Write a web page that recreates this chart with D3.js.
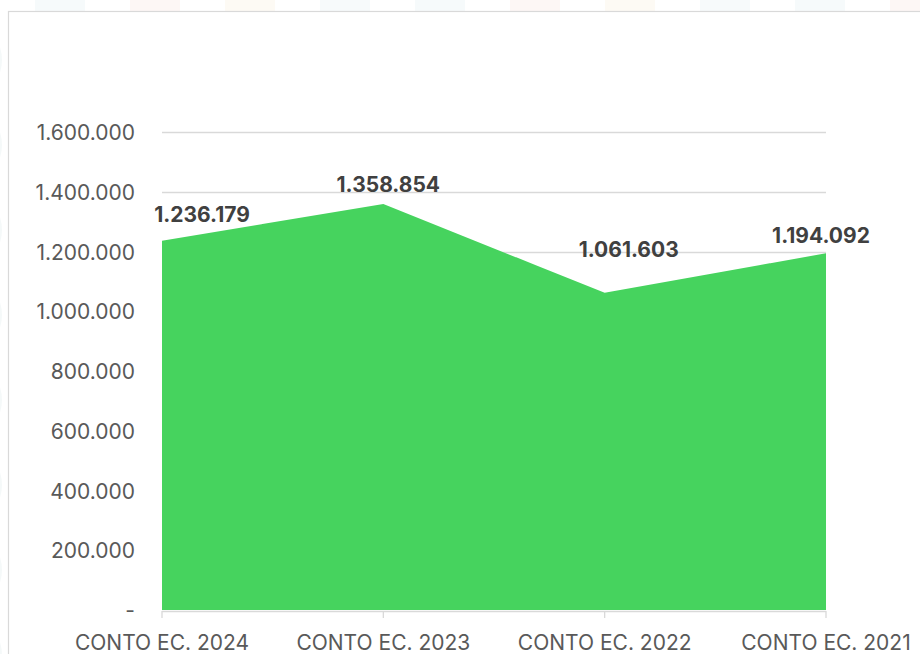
<!DOCTYPE html>
<html>
<head>
<meta charset="utf-8">
<script src="https://cdn.jsdelivr.net/npm/d3@7"></script>
<style>
  body { margin: 0; background: #fff; }
  svg { display: block; font-family: Inter, "Noto Sans", sans-serif; }
</style>
</head>
<body>
<svg id="chart" width="920" height="654"></svg>
<script>
// data
var categories = ["CONTO EC. 2024", "CONTO EC. 2023", "CONTO EC. 2022", "CONTO EC. 2021"];
var values = [1236179, 1358854, 1061603, 1194092];
var yTicks = [0, 200000, 400000, 600000, 800000, 1000000, 1200000, 1400000, 1600000];

// label nudges (px) relative to each point
var labelDx = [40, 5, 24, -5];
var labelDy = [-19, -12, -36, -10];

var svg = d3.select("#chart");
var W = 920, H = 654;

// faint background pattern outside the panel
var bg = svg.append("g").attr("opacity", 0.6);
var bgCols = ["#e3f1f4", "#fbe5e1", "#fcefdc", "#e6f1f6"];
d3.range(0, 10).forEach(function(i) {
    bg.append("rect")
        .attr("x", i * 95 + 35).attr("y", -4)
        .attr("width", 50).attr("height", 16)
        .attr("fill", bgCols[i % 4])
        .attr("opacity", 0.5);
});
d3.range(0, 8).forEach(function(i) {
    bg.append("path")
        .attr("d", "M-4," + (i * 85 + 40) + " q10,20 0,40")
        .attr("fill", "none")
        .attr("stroke", "#eef5f5")
        .attr("stroke-width", 2);
});

// panel
svg.append("rect")
    .attr("x", 8.5).attr("y", 11.5)
    .attr("width", W).attr("height", H)
    .attr("fill", "#fff")
    .attr("stroke", "#d9d9d9")
    .attr("stroke-width", 1.2);

var x = d3.scalePoint()
    .domain(categories)
    .range([162, 826]);

var y = d3.scaleLinear()
    .domain([0, 1600000])
    .range([610, 132]);

var fmt = function(v) {
    if (v === 0) return "-";
    return d3.format(",")(v).replace(/,/g, ".");
};

// gridlines
svg.append("g")
    .selectAll("line")
    .data(yTicks.slice(1))
    .enter()
    .append("line")
    .attr("x1", 162).attr("x2", 826)
    .attr("y1", function(d) { return Math.round(y(d)) + 0.5; })
    .attr("y2", function(d) { return Math.round(y(d)) + 0.5; })
    .attr("stroke", "#d9d9d9")
    .attr("stroke-width", 1.3);

// area
var area = d3.area()
    .x(function(d, i) { return x(categories[i]); })
    .y0(y(0))
    .y1(function(d) { return y(d); });

svg.append("path")
    .datum(values)
    .attr("d", area)
    .attr("fill", "#46d35e");

// x axis baseline + ticks
var xAxis = svg.append("g");
xAxis.append("line")
    .attr("x1", 162).attr("x2", 826)
    .attr("y1", 611.5).attr("y2", 611.5)
    .attr("stroke", "#d9d9d9")
    .attr("stroke-width", 1.3);
xAxis.selectAll(".tk")
    .data(categories)
    .enter()
    .append("line")
    .attr("class", "tk")
    .attr("x1", function(d) { return x(d); })
    .attr("x2", function(d) { return x(d); })
    .attr("y1", 611).attr("y2", 618)
    .attr("stroke", "#d9d9d9")
    .attr("stroke-width", 1.3);
xAxis.selectAll("text")
    .data(categories)
    .enter()
    .append("text")
    .attr("x", function(d) { return x(d); })
    .attr("y", 650)
    .attr("text-anchor", "middle")
    .attr("fill", "#595959")
    .style("font-size", "21px")
    .text(function(d) { return d; });

// y labels
svg.append("g")
    .selectAll("text")
    .data(yTicks)
    .enter()
    .append("text")
    .attr("x", 135)
    .attr("y", function(d) { return y(d) + 8; })
    .attr("text-anchor", "end")
    .attr("fill", "#595959")
    .style("font-size", "21px")
    .text(fmt);

// data labels
svg.append("g")
    .selectAll("text")
    .data(values)
    .enter()
    .append("text")
    .attr("x", function(d, i) { return x(categories[i]) + labelDx[i]; })
    .attr("y", function(d, i) { return y(d) + labelDy[i]; })
    .attr("text-anchor", "middle")
    .attr("fill", "#404040")
    .style("font-size", "21px")
    .style("font-weight", "bold")
    .text(fmt);
</script>
</body>
</html>
